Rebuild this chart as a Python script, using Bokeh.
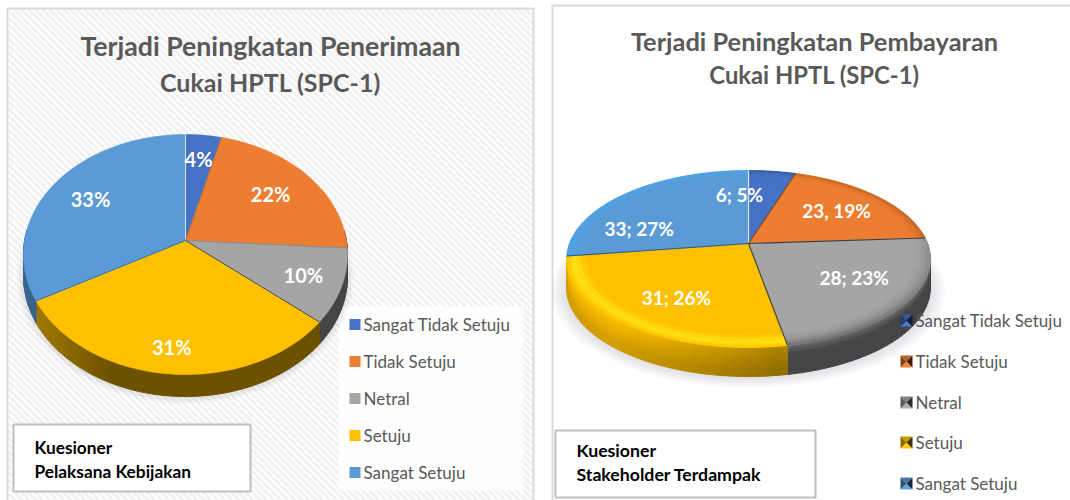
import math
from bokeh.plotting import figure
from bokeh.embed import file_html
from bokeh.resources import INLINE
from bokeh.core.properties import value
from bokeh.models import Range1d

# ---------- data ----------
CATEGORIES = ["Sangat Tidak Setuju", "Tidak Setuju", "Netral", "Setuju", "Sangat Setuju"]
LEFT_PCT = [4, 22, 10, 31, 33]
RIGHT_COUNT = [6, 23, 28, 31, 33]
RIGHT_PCT = [5, 19, 23, 26, 27]
RIGHT_SEP = [";", ",", ";", ";", ";"]
LEFT_TITLE = ["Terjadi Peningkatan Penerimaan", "Cukai HPTL (SPC-1)"]
RIGHT_TITLE = ["Terjadi Peningkatan Pembayaran", "Cukai HPTL (SPC-1)"]
LEFT_NOTE = ["Kuesioner", "Pelaksana Kebijakan"]
RIGHT_NOTE = ["Kuesioner", "Stakeholder Terdampak"]

# ---------- style ----------
COLORS = ["#4472c4", "#ed7d31", "#a5a5a5", "#ffc000", "#5b9bd5"]
GREY_TXT = "#595959"
FONT = value("Lato")


def rgb(h):
    return tuple(int(h[i:i + 2], 16) for i in (1, 3, 5))


def mix(a, b, t):
    t = max(0.0, min(1.0, t))
    ca, cb = rgb(a), rgb(b)
    return "#%02x%02x%02x" % tuple(round(x + (y - x) * t) for x, y in zip(ca, cb))


def dark(h, f):
    return "#%02x%02x%02x" % tuple(min(255, round(x * f)) for x in rgb(h))


class Pie:
    def __init__(self, cx, cy, rx, ry, k, depth, vals):
        self.cx, self.cy, self.rx, self.ry, self.k, self.depth = cx, cy, rx, ry, k, depth
        tot = sum(vals)
        self.edges = [0.0]
        for v in vals:
            self.edges.append(self.edges[-1] + v / tot)

    def pt(self, f, r=1.0):
        a = 2 * math.pi * f
        u, v = r * math.sin(a), r * math.cos(a)
        d = 1 + self.k * v
        return self.cx + self.rx * u / d, self.cy - self.ry * v / d

    def arc(self, f0, f1, r=1.0, step=0.004):
        n = max(2, int((f1 - f0) / step) + 1)
        return [self.pt(f0 + (f1 - f0) * i / n, r) for i in range(n + 1)]


pie_l = Pie(185, 240, 160.9, 118.4, 0.1167, 22, LEFT_PCT)
pie_r = Pie(748, 243, 179, 85.8, 0.175, 29, RIGHT_COUNT)

p = figure(width=1070, height=500, x_range=Range1d(0, 1070), y_range=Range1d(500, 0),
           output_backend="svg", toolbar_location=None, min_border=0,
           outline_line_color=None, background_fill_color="white",
           border_fill_color="white")
p.axis.visible = False
p.grid.visible = False

# ---------- left panel hatch ----------
PX0, PX1, PY0, PY1 = 8, 532, 9, 500
sx, sy = [], []
c = PX0 - PY1
while c < PX1 - PY0:
    y0 = max(PY0, PX0 - c)
    y1 = min(PY1, PX1 - c)
    if y1 > y0:
        sx.append([y0 + c, y1 + c])
        sy.append([y0, y1])
    c += 7
p.multi_line(sx, sy, line_color="#f1f1f1", line_width=3)
# legend backdrop
p.quad(left=[338], right=[523], top=[306], bottom=[490], fill_color="white", fill_alpha=0.85, line_color=None)

# panel borders
p.multi_line([[7, 7], [6, 534], [533, 533], [552, 552], [551, 1070]],
             [[8, 500], [8, 8], [8, 500], [5, 500], [5, 5]],
             line_color="#d9d9d9", line_width=2)


def shadow(pie, grows, off, alpha):
    for g in grows:
        pts = pie.arc(0, 1, 1 + g / pie.rx)
        p.patch([a for a, _ in pts], [b + off for _, b in pts], fill_color="#707080",
                fill_alpha=alpha, line_color=None)


def draw_walls(pie, shade, bands, skip=()):
    xs, ys, cols = [], [], []
    for j in range(5):
        if j in skip:
            continue
        f0, f1 = pie.edges[j], pie.edges[j + 1]
        pts = pie.arc(f0, f1, step=0.006)
        for a, b in zip(pts[:-1], pts[1:]):
            # only the front of the pie shows its wall
            if (a[1] + b[1]) / 2 < pie.cy - 12:
                continue
            xf = ((a[0] + b[0]) / 2 - pie.cx) / pie.rx
            for t in range(bands):
                t0, t1 = t / bands, (t + 1) / bands
                xs.append([a[0], b[0], b[0], a[0]])
                ys.append([a[1] + pie.depth * t0, b[1] + pie.depth * t0,
                           b[1] + pie.depth * t1, a[1] + pie.depth * t1])
                cols.append(shade(j, xf, (t0 + t1) / 2))
    p.patches(xs, ys, fill_color=cols, line_color=cols, line_width=1)


def left_shade(j, xf, t):
    f = 0.66 + (0.42 - 0.66) * (xf + 1) / 0.55
    f = max(0.42, min(0.66, f))
    if j in (2,):
        f = 0.42
    return dark(COLORS[j], f)


def right_shade(j, xf, t):
    c = COLORS[j]
    if j == 3:
        f = 1.0 + (0.70 - 1.0) * (xf + 0.75) / 0.9
        f = max(0.70, min(1.0, f))
        return mix(dark(c, f), dark(c, f * 0.82), t * 1.2)
    if j == 2:
        return mix("#6a6a6a", "#454545", t * 3)
    return dark(c, 0.72)


def top_faces(pie):
    for j in range(5):
        pts = [pie.pt(0, 0)] + pie.arc(pie.edges[j], pie.edges[j + 1])
        p.patch([a for a, _ in pts], [b for _, b in pts], fill_color=COLORS[j],
                line_color=COLORS[j], line_width=0.5)


def bevel(pie):
    xs, ys, cols = [], [], []
    rs = [0.90, 0.925, 0.95, 0.97, 0.985, 1.0]
    for j in range(5):
        pts_f = [pie.edges[j] + (pie.edges[j + 1] - pie.edges[j]) * i / 40 for i in range(41)]
        for f0, f1 in zip(pts_f[:-1], pts_f[1:]):
            fm = (f0 + f1) / 2
            low = max(0.0, -math.cos(2 * math.pi * fm))  # 0 at back, 1 at front
            for i in range(len(rs) - 1):
                r0, r1 = rs[i], rs[i + 1]
                s = (i + 0.5) / (len(rs) - 1)
                if j == 3:
                    w = math.sin(math.pi * s) * 0.75
                    col = mix(COLORS[3], "#ffe81a", w)
                elif j == 2:
                    col = mix(COLORS[2], "#6a6a6a", (s ** 1.5) * (0.35 + 0.65 * low))
                elif j == 4:
                    col = mix(COLORS[4], "#4fa3e6", s)
                else:
                    col = mix(COLORS[j], dark(COLORS[j], 0.8), s * s)
                a, b = pie.pt(f0, r0), pie.pt(f1, r0)
                d, e = pie.pt(f0, r1), pie.pt(f1, r1)
                xs.append([a[0], b[0], e[0], d[0]])
                ys.append([a[1], b[1], e[1], d[1]])
                cols.append(col)
    p.patches(xs, ys, fill_color=cols, line_color=cols, line_width=0.5)


def spokes(pie, colors, width):
    xs, ys = [], []
    for f in pie.edges[:-1]:
        a, b = pie.pt(0, 0), pie.pt(f)
        xs.append([a[0], b[0]])
        ys.append([a[1], b[1]])
    p.multi_line(xs, ys, line_color=colors, line_width=width)


def pie_labels(pie, texts, radii, nudges, size):
    xs, ys = [], []
    for j, t in enumerate(texts):
        x, y = pie.pt((pie.edges[j] + pie.edges[j + 1]) / 2, radii[j])
        xs.append(x + nudges[j][0])
        ys.append(y + nudges[j][1])
    p.text(xs, ys, text=texts, text_color="white", text_font=FONT, text_font_style="bold",
           text_font_size=size, text_align="center", text_baseline="middle")


def lines(x, ys, texts, color, size, style, align):
    p.text([x] * len(ys), ys, text=texts, text_color=color, text_font=FONT, text_font_size=size,
           text_font_style=style, text_align=align, text_baseline="middle")


# ---------- left pie ----------
shadow(pie_l, [6, 4, 2], pie_l.depth + 1, 0.05)
draw_walls(pie_l, left_shade, 1)
top_faces(pie_l)
spokes(pie_l, ["#dce6f2", "#a9714a", "#8a8a8a", "#3f4a55", "#3f6f9c"], 1)
pie_labels(pie_l, [f"{v}%" for v in LEFT_PCT], [0.76, 0.71, 0.775, 0.82, 0.715],
           [(-1, 1), (-3, 1), (-2, 0), (0, 0), (0, 0)], "20px")

# ---------- right pie ----------
shadow(pie_r, [14, 11, 8, 5, 2], pie_r.depth + 1, 0.045)
draw_walls(pie_r, right_shade, 8, skip=(4,))
top_faces(pie_r)
bevel(pie_r)
spokes(pie_r, ["#dce6f2", "#7a4a25", "#3f3f3f", "#3c4a40", "#345a80"], 1.2)
pie_labels(pie_r, [f"{c}{s} {v}%" for c, s, v in zip(RIGHT_COUNT, RIGHT_SEP, RIGHT_PCT)],
           [0.68, 0.66, 0.68, 0.66, 0.68], [(-26, 3), (1, 0), (2, -5), (4, 3), (-24, 20)], "19px")

# ---------- titles ----------
lines(270, [45], LEFT_TITLE[:1], GREY_TXT, "26.7px", "bold", "center")
lines(270, [81], LEFT_TITLE[1:], GREY_TXT, "25px", "bold", "center")
lines(814, [40], RIGHT_TITLE[:1], GREY_TXT, "25.4px", "bold", "center")
lines(814, [74], RIGHT_TITLE[1:], GREY_TXT, "23.8px", "bold", "center")

# ---------- legends ----------
LEG_L_Y = [324, 361, 398, 435, 472]
LEG_R_Y = [320, 361, 402, 442, 483]
p.quad(left=[349] * 5, right=[360] * 5, top=[y - 5.5 for y in LEG_L_Y], bottom=[y + 5.5 for y in LEG_L_Y],
       fill_color=COLORS, line_color=None)
lines(363, LEG_L_Y, CATEGORIES, GREY_TXT, "17px", "normal", "left")
tx, ty, tc = [], [], []
for y, col in zip(LEG_R_Y, COLORS):
    x0, x1, y0, y1 = 900, 912, y - 6, y + 6
    mx, my = (x0 + x1) / 2, (y0 + y1) / 2
    tx += [[x0, x1, mx], [x0, x1, mx], [x0, x0, mx], [x1, x1, mx]]
    ty += [[y0, y0, my], [y1, y1, my], [y0, y1, my], [y0, y1, my]]
    tc += [dark(col, 0.78), dark(col, 1.05), dark(col, 0.55), dark(col, 0.25)]
p.patches(tx, ty, fill_color=tc, line_color=None)
lines(915, LEG_R_Y, CATEGORIES, GREY_TXT, "17px", "normal", "left")

# ---------- note boxes ----------
p.quad(left=[13, 555], right=[250, 815], top=[424, 430], bottom=[491, 497],
       fill_color="white", line_color="#bfbfbf", line_width=2)
lines(34, [447, 471], LEFT_NOTE, "black", "17.3px", "bold", "left")
lines(576, [450, 474], RIGHT_NOTE, "black", "17.7px", "bold", "left")

open("out.html", "w").write(file_html(p, INLINE))
